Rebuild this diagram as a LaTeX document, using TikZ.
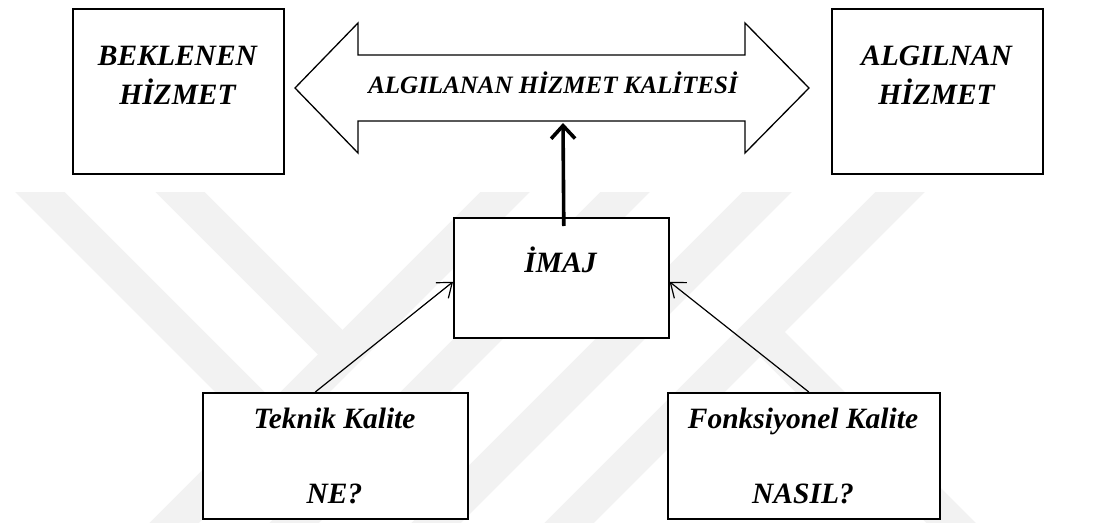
\documentclass[tikz,border=0pt]{standalone}
\usepackage{fontspec}
\setmainfont{Liberation Serif}
\usetikzlibrary{arrows.meta}
\begin{document}
\begin{tikzpicture}[x=1pt,y=-1pt,
  frame/.style={draw, line width=1.6pt, fill=white, inner sep=0pt, anchor=north west},
  big/.style={font=\fontsize{29.5}{32}\selectfont\bfseries\itshape, inner sep=0pt, anchor=base},
  mid/.style={font=\fontsize{25}{27}\selectfont\bfseries\itshape, inner sep=0pt, anchor=base},
  thin/.style={line width=1.2pt, -{Straight Barb[length=13pt,width=20pt]}},
  thick/.style={line width=3.6pt, -{Straight Barb[length=13pt,width=24pt]}},
  band/.style={line width=35pt, draw=black!5, line join=miter, line cap=butt}]
\useasboundingbox (0,0) rectangle (1100,522);

% faint background stripes, cut flat along their upper edge
\begin{scope}
  \clip (0,192) rectangle (1100,522);
  \draw[band] (25,177) -- (272,424);
  \draw[band] (165,177) -- (342,354);
  \draw[band] (520,177) -- (160,537);
  \draw[band] (640,177) -- (280,537);
  \draw[band] (782,177) -- (422,537);
  \draw[band] (915,177) -- (555,537);
  \draw[band] (760,332) -- (965,537);
\end{scope}

% top row
\node[frame, minimum width=211pt, minimum height=165pt] (bek) at (72,8) {};
\node[frame, minimum width=211pt, minimum height=165pt] (alg) at (831,8) {};
\node[big] (bekA) at (177.5,65) {BEKLENEN};
\node[big] (bekB) at (177.5,104) {HİZMET};
\node[big] (algA) at (936.5,65) {ALGILNAN};
\node[big] (algB) at (936.5,104) {HİZMET};

% double-headed quality arrow
\draw[line width=1.3pt, fill=white, line join=miter]
  (295,88) -- (358,23) -- (358,55) -- (745,55) -- (745,23) -- (809,88)
  -- (745,153) -- (745,121) -- (358,121) -- (358,153) -- cycle;
\coordinate (shaft) at (563,123);
\node[mid] (qual) at (553,93) {ALGILANAN HİZMET KALİTESİ};

% image box
\node[frame, minimum width=215pt, minimum height=120pt] (imaj) at (453,217) {};
\node[big] (imajT) at (560.5,272) {İMAJ};

% bottom row
\node[frame, minimum width=265pt, minimum height=126pt] (tek) at (202,392) {};
\node[big] (tekA) at (334.5,428) {Teknik Kalite};
\node[big] (tekB) at (334.5,503) {NE?};
\node[frame, minimum width=272pt, minimum height=126pt] (fon) at (667,392) {};
\node[big] (fonA) at (803,428) {Fonksiyonel Kalite};
\node[big] (fonB) at (803,503) {NASIL?};

% connectors
\draw[thick] ([xshift=2.5pt,yshift=-9pt]imaj.north) -- (shaft);
\draw[thin] ([xshift=-20pt]tek.north) -- ([yshift=-4pt]imaj.west);
\draw[thin] ([xshift=5pt]fon.north) -- ([yshift=-4pt]imaj.east);
\end{tikzpicture}
\end{document}
